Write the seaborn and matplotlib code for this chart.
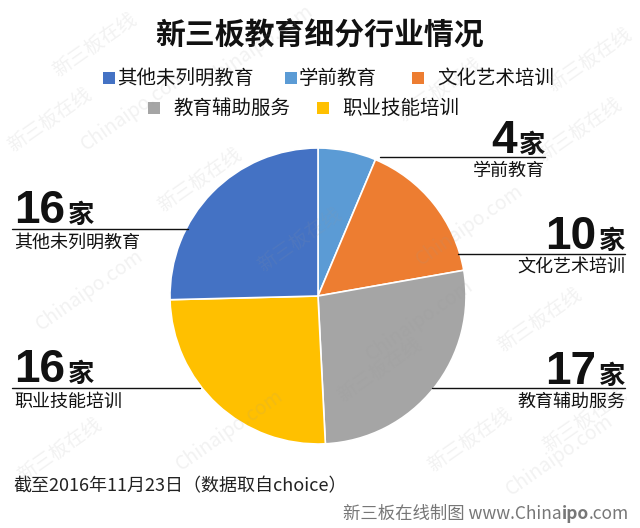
import matplotlib
matplotlib.use("Agg")
import matplotlib.pyplot as plt
import seaborn as sns
import numpy as np
from matplotlib.patches import Rectangle

sns.set_theme(style="white")
plt.rcParams['font.family'] = ['Noto Sans CJK SC', 'DejaVu Sans']

# ---- data ----
title = "新三板教育细分行业情况"
categories = ["学前教育", "文化艺术培训", "教育辅助服务", "职业技能培训", "其他未列明教育"]
counts = [4, 10, 17, 16, 16]
colors = ["#5B9BD5", "#ED7D31", "#A5A5A5", "#FFC000", "#4472C4"]
legend_order = ["其他未列明教育", "学前教育", "文化艺术培训", "教育辅助服务", "职业技能培训"]
unit = "家"
note = "截至2016年11月23日（数据取自choice）"
credit_parts = [("新三板在线制图 www.China", "normal"), ("ipo", "bold"), (".com", "normal")]

W, H = 640, 528
fig = plt.figure(figsize=(W / 100, H / 100), dpi=100)
fig.patch.set_facecolor("white")

# ---- pie ----
cx, cy, r = 318, 296, 148
pax = fig.add_axes([(cx - r) / W, (H - cy - r) / H, 2 * r / W, 2 * r / H])
pax.pie(counts, colors=colors, startangle=90, counterclock=False,
        wedgeprops=dict(edgecolor="white", linewidth=1.2))
pax.set_xlim(-1, 1)
pax.set_ylim(-1, 1)
pax.set_aspect("equal")
pax.axis("off")

# overlay axes in pixel coords
ov = fig.add_axes([0, 0, 1, 1], zorder=5)
ov.set_xlim(0, W)
ov.set_ylim(H, 0)
ov.axis("off")
ov.patch.set_alpha(0)

ov.text(320, 36, title, ha="center", va="center", fontsize=21.5, fontweight="bold", color="#111111")

# legend
leg_pos = {"其他未列明教育": (103, 78), "学前教育": (285, 78), "文化艺术培训": (412, 78),
           "教育辅助服务": (148, 108), "职业技能培训": (317, 108)}
for name in legend_order:
    x, y = leg_pos[name]
    c = colors[categories.index(name)]
    ov.add_patch(Rectangle((x, y - 6), 12, 12, facecolor=c, edgecolor="none"))
    gap = 14 if name in ("学前教育", "其他未列明教育") else 25
    ov.text(x + gap, y, name, ha="left", va="center", fontsize=14, color="#111111")

fig.canvas.draw()
renderer = fig.canvas.get_renderer()

def px_width(t):
    bb = t.get_window_extent(renderer=renderer)
    return bb.width

# labels: (category, side, x_anchor, baseline_y, line_y, line_end_x)
label_spec = {
    "学前教育": ("right", 545, 153, 157, 380),
    "文化艺术培训": ("right", 625, 249, 254, 458),
    "教育辅助服务": ("right", 625, 384, 388, 432),
    "其他未列明教育": ("left", 14, 223, 229, 188),
    "职业技能培训": ("left", 14, 382, 388, 200),
}
for cat, val in zip(categories, counts):
    side, xa, base, ly, lend = label_spec[cat]
    if side == "left":
        t1 = ov.text(xa, base, str(val), ha="left", va="baseline", fontsize=33,
                     fontweight="bold", color="#111111", family=["Liberation Sans", "DejaVu Sans"])
        w1 = px_width(t1)
        ov.text(xa + w1 + 3, base, unit, ha="left", va="baseline", fontsize=19,
                fontweight="bold", color="#111111")
        ov.plot([xa - 2, lend], [ly, ly], color="#111111", lw=1)
        ov.text(xa, ly + 5, cat, ha="left", va="top", fontsize=13, color="#111111")
    else:
        t2 = ov.text(xa, base, unit, ha="right", va="baseline", fontsize=19,
                     fontweight="bold", color="#111111")
        w2 = px_width(t2)
        ov.text(xa - w2 - 2, base, str(val), ha="right", va="baseline", fontsize=33,
                fontweight="bold", color="#111111", family=["Liberation Sans", "DejaVu Sans"])
        ov.plot([lend, xa], [ly, ly], color="#111111", lw=1)
        ov.text(xa, ly + 5, cat, ha="right", va="top", fontsize=13, color="#111111")

ov.text(13, 486, note, ha="left", va="center", fontsize=13, color="#222222")

# credit (right aligned, built right to left)
x = 629
for txt, wt in reversed(credit_parts):
    t = ov.text(x, 514, txt, ha="right", va="center", fontsize=12.5, fontweight=wt, color="#777777")
    x -= px_width(t)

# faint watermarks
wm = [("新三板在线", 95, 45), ("Chinaipo.com", 260, 45), ("新三板在线", 590, 60),
      ("新三板在线", 50, 120), ("Chinaipo.com", 135, 110), ("新三板在线", 440, 90),
      ("新三板在线", 580, 130), ("新三板在线", 200, 180), ("Chinaipo.com", 470, 225),
      ("Chinaipo.com", 90, 290), ("新三板在线", 300, 240), ("Chinaipo.com", 420, 320),
      ("新三板在线", 540, 320), ("新三板在线", 380, 370), ("Chinaipo.com", 230, 430),
      ("新三板在线", 470, 440), ("Chinaipo.com", 560, 455), ("新三板在线", 60, 450),
      ("新三板在线", 585, 420)]
for s, wx, wy in wm:
    ov.text(wx, wy, s, ha="center", va="center", rotation=35, fontsize=14,
            color="#999999", alpha=0.13, zorder=10)

fig.savefig("out.png", dpi=100, facecolor="white")
